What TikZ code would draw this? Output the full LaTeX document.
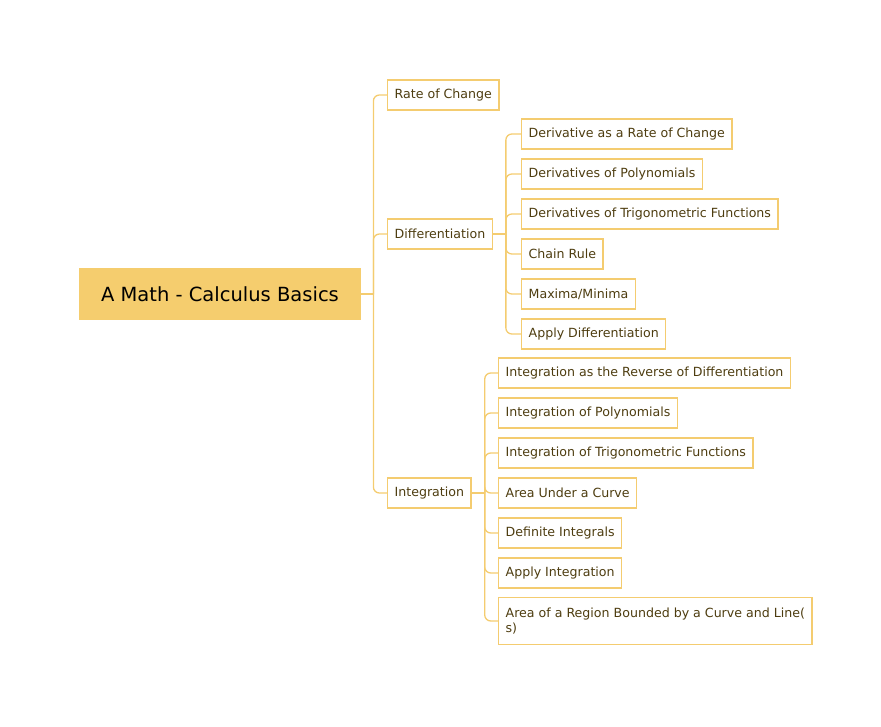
\documentclass[tikz,border=0pt]{standalone}
\usepackage{fontspec}
\setmainfont{DejaVu Sans}
\usepackage{tikz, xcolor}
\usetikzlibrary{shapes,arrows}
\definecolor{mapline}{HTML}{F4CC70}
\definecolor{mapfill}{HTML}{F5CD6E}
\definecolor{maptext}{HTML}{4E3D10}

\begin{document}
\begin{tikzpicture}[x=1pt, y=-1pt, thick]
\tikzstyle{vertexroot}=[rectangle, fill=mapfill, minimum width=282pt, minimum height=52pt, font=\fontsize{19.5}{22}\selectfont, text=black]
\tikzstyle{vertexr}=[rectangle, draw=mapline, line width=1.3pt, fill=white, minimum height=30pt, inner xsep=7pt, anchor=west, font=\fontsize{12.6}{15}\selectfont, text=maptext]
\tikzstyle{drawstyle}=[draw=mapline, line width=1.3pt, rounded corners=6pt]

\useasboundingbox (0,0) rectangle (881,726);

\node[vertexroot] (G0x0) at (220,294) {A Math - Calculus Basics};

\node[vertexr] (G1x0) at (387,95) {Rate of Change};
\node[vertexr] (G1x1) at (387,234) {Differentiation};
\node[vertexr] (G1x2) at (387,493) {Integration};
\draw[drawstyle] (G0x0.east) -- ++(12,0) coordinate (T0);
\foreach \i in {0,1,2}
  \draw[drawstyle] (T0) |- (G1x\i.west);

\node[vertexr] (G2x0) at (521,134) {Derivative as a Rate of Change};
\node[vertexr] (G2x1) at (521,174) {Derivatives of Polynomials};
\node[vertexr] (G2x2) at (521,214) {Derivatives of Trigonometric Functions};
\node[vertexr] (G2x3) at (521,254) {Chain Rule};
\node[vertexr] (G2x4) at (521,294) {Maxima/Minima};
\node[vertexr] (G2x5) at (521,334) {Apply Differentiation};
\draw[drawstyle] (G1x1.east) -- ++(13,0) coordinate (T1);
\foreach \i in {0,...,5}
  \draw[drawstyle] (T1) |- (G2x\i.west);

\node[vertexr] (G3x0) at (498,373) {Integration as the Reverse of Differentiation};
\node[vertexr] (G3x1) at (498,413) {Integration of Polynomials};
\node[vertexr] (G3x2) at (498,453) {Integration of Trigonometric Functions};
\node[vertexr] (G3x3) at (498,493) {Area Under a Curve};
\node[vertexr] (G3x4) at (498,533) {Definite Integrals};
\node[vertexr] (G3x5) at (498,573) {Apply Integration};
\node[vertexr, align=left, minimum height=47pt] (G3x6) at (498,621) {Area of a Region Bounded by a Curve and Line(\\s)};
\draw[drawstyle] (G1x2.east) -- ++(13,0) coordinate (T2);
\foreach \i in {0,...,6}
  \draw[drawstyle] (T2) |- (G3x\i.west);
\end{tikzpicture}
\end{document}
